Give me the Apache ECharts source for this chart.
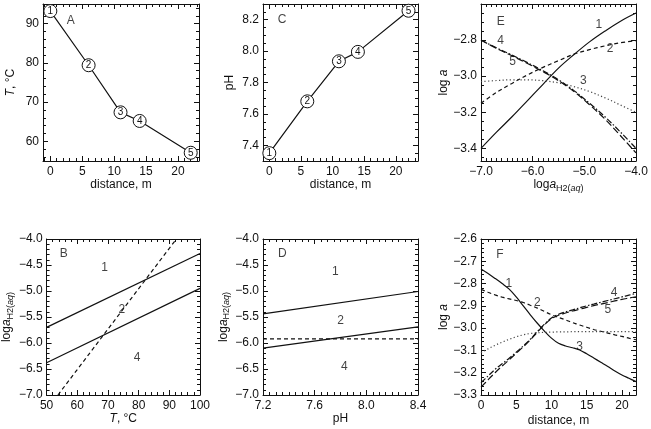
<!DOCTYPE html>
<html><head><meta charset="utf-8">
<script src="https://cdn.jsdelivr.net/npm/echarts@6/dist/echarts.min.js"></script>
<style>html,body{margin:0;padding:0;background:#fff}#c{width:651px;height:429px}</style>
</head><body><div id="c"></div>
<script>
// ---------- data ----------
const distA = [0, 6, 11, 14, 22];
const tempA = [93.2, 79.4, 67.4, 65.2, 57.1];
const distC = [0, 6, 11, 14, 22];
const phC = [7.35, 7.68, 7.935, 7.995, 8.257];
const siteLabels = ['1', '2', '3', '4', '5'];

const tempB = [50, 100];
const b12 = [-5.70, -4.28];
const b24 = [-6.38, -4.95];
const tempBDash = [53.7, 92.3];
const bDash = [-7.0, -4.0];

const phD = [7.2, 8.4];
const d12 = [-5.44, -5.01];
const d24 = [-6.10, -5.69];
const dDash = [-5.92, -5.92];

const logH2E = [-7.0, -6.7, -6.4, -6.1, -5.8, -5.5, -5.2, -4.9, -4.6, -4.3, -4.0];
const e1 = [-3.40, -3.31, -3.225, -3.135, -3.045, -2.955, -2.88, -2.81, -2.75, -2.695, -2.65];
const e2 = [-3.15, -3.09, -3.04, -2.993, -2.951, -2.914, -2.878, -2.853, -2.832, -2.815, -2.803];
const e3 = [-3.03, -3.024, -3.02, -3.02, -3.025, -3.037, -3.058, -3.085, -3.12, -3.16, -3.20];
const e4 = [-2.80, -2.843, -2.883, -2.925, -2.97, -3.02, -3.08, -3.15, -3.225, -3.31, -3.40];
const e5 = [-2.80, -2.846, -2.887, -2.93, -2.975, -3.025, -3.085, -3.158, -3.238, -3.33, -3.425];

const distF = [0, 1, 2, 3, 4, 5, 6, 7, 8, 9, 10, 11, 12, 13, 14, 15, 16, 17, 18, 19, 20, 21, 22];
const f1 = [-2.735, -2.755, -2.777, -2.80, -2.825, -2.86, -2.90, -2.94, -2.978, -3.013, -3.045, -3.068, -3.08, -3.088, -3.098, -3.115, -3.134, -3.153, -3.172, -3.192, -3.21, -3.225, -3.24];
const f2 = [-2.826, -2.839, -2.851, -2.861, -2.869, -2.876, -2.885, -2.897, -2.91, -2.925, -2.94, -2.952, -2.963, -2.975, -2.986, -2.996, -3.006, -3.014, -3.022, -3.03, -3.037, -3.045, -3.052];
const f3 = [-3.11, -3.093, -3.077, -3.063, -3.05, -3.039, -3.03, -3.024, -3.021, -3.019, -3.018, -3.017, -3.017, -3.016, -3.016, -3.016, -3.016, -3.016, -3.016, -3.016, -3.016, -3.016, -3.016];
const f4 = [-3.245, -3.215, -3.185, -3.16, -3.135, -3.108, -3.08, -3.05, -3.015, -2.982, -2.955, -2.938, -2.927, -2.918, -2.909, -2.90, -2.892, -2.884, -2.876, -2.868, -2.86, -2.852, -2.844];
const f5 = [-3.265, -3.232, -3.20, -3.17, -3.142, -3.113, -3.084, -3.053, -3.018, -2.985, -2.958, -2.942, -2.932, -2.923, -2.915, -2.907, -2.899, -2.892, -2.885, -2.878, -2.871, -2.865, -2.859];

// tick labels
const ticksDist = [0, 5, 10, 15, 20];
const ticksT = [60, 70, 80, 90];
const ticksPH = [7.4, 7.6, 7.8, 8.0, 8.2];
const ticksLogH2 = [-7.0, -6.0, -5.0, -4.0];
const ticksLogAE = [-3.4, -3.2, -3.0, -2.8];
const ticksTB = [50, 60, 70, 80, 90, 100];
const ticksLogH2Y = [-7.0, -6.5, -6.0, -5.5, -5.0, -4.5, -4.0];
const ticksPHD = [7.2, 7.6, 8.0, 8.4];
const ticksLogAF = [-3.3, -3.2, -3.1, -3.0, -2.9, -2.8, -2.7, -2.6];

// text annotations [x, y, text]
const notesA = [[3.2, 90.8, 'A']];
const notesC = [[2.0, 8.2, 'C']];
const notesE = [[-6.62, -2.70, 'E'], [-4.72, -2.717, '1'], [-4.50, -2.846, '2'], [-5.02, -3.027, '3'], [-6.62, -2.802, '4'], [-6.39, -2.92, '5']];
const notesB = [[55.6, -4.29, 'B'], [68.9, -4.56, '1'], [74.5, -5.35, '2'], [79.5, -6.28, '4']];
const notesD = [[7.35, -4.29, 'D'], [7.76, -4.63, '1'], [7.80, -5.58, '2'], [7.83, -6.46, '4']];
const notesF = [[2.7, -2.669, 'F'], [3.96, -2.80, '1'], [8.0, -2.884, '2'], [14.0, -3.083, '3'], [18.9, -2.839, '4'], [18.0, -2.918, '5']];

// ---------- styling / layout ----------
const FONT = '"Liberation Sans", Arial, Helvetica, sans-serif';
const INK = '#111';
const rich = {
  r: {fontSize: 12, fontFamily: FONT, color: INK, lineHeight: 16},
  i: {fontSize: 12, fontFamily: FONT, color: INK, lineHeight: 16, fontStyle: 'italic'},
  s: {fontSize: 9, fontFamily: FONT, color: INK, lineHeight: 9, verticalAlign: 'bottom'},
  si: {fontSize: 9, fontFamily: FONT, color: INK, lineHeight: 9, verticalAlign: 'bottom', fontStyle: 'italic'}
};
const NAME_DIST = '{r|distance, m}';
const NAME_T = '{i|T}{r|, °C}';
const NAME_PH = '{r|pH}';
const NAME_LOGA = '{r|log }{i|a}';
const NAME_H2 = '{r|log}{i|a}{s|H2(}{si|aq}{s|)}';

const panels = [
  {grid: {left: 43, top: 4, width: 156, height: 157}, x: [-1.15, 23.3, ticksDist, 1, 0], y: [55, 95, ticksT, 2, 0], xName: NAME_DIST, yName: NAME_T, xGap: 16, yGap: 24},
  {grid: {left: 263, top: 4, width: 155, height: 157}, x: [-1.0, 23.5, ticksDist, 1, 0], y: [7.3, 8.3, ticksPH, 0.05, 1], xName: NAME_DIST, yName: NAME_PH, xGap: 16, yGap: 25},
  {grid: {left: 481, top: 4, width: 155, height: 157}, x: [-7.0, -4.0, ticksLogH2, 0.1, 1], y: [-3.47, -2.6, ticksLogAE, 0.05, 1], xName: NAME_H2, yName: NAME_LOGA, xGap: 14, yGap: 29},
  {grid: {left: 43, top: 239, width: 157, height: 156}, x: [50, 100, ticksTB, 2, 0], y: [-7.0, -4.0, ticksLogH2Y, 0.1, 1], xName: NAME_T, yName: NAME_H2, xGap: 16, yGap: 25},
  {grid: {left: 263, top: 239, width: 155, height: 156}, x: [7.2, 8.4, ticksPHD, 0.05, 1], y: [-7.0, -4.0, ticksLogH2Y, 0.1, 1], xName: NAME_PH, yName: NAME_H2, xGap: 15, yGap: 29},
  {grid: {left: 481, top: 239, width: 155, height: 156}, x: [0, 22, ticksDist, 1, 0], y: [-3.3, -2.6, ticksLogAF, 0.02, 1], xName: NAME_DIST, yName: NAME_LOGA, xGap: 18, yGap: 29}
];

function minorVals(min, max, step) {
  const out = [];
  const start = Math.ceil(min / step - 1e-9);
  for (let k = start; k * step <= max + 1e-9; k++) out.push(+(k * step).toFixed(6));
  return out;
}
function fmt(dec) {
  return v => v.toFixed(dec).replace('-', '\u2212');
}

const grids = [], xAxes = [], yAxes = [];
panels.forEach((p, gi) => {
  grids.push(p.grid);
  ['x', 'y'].forEach(dim => {
    const [min, max, majors, step, dec] = p[dim];
    const minors = minorVals(min, max, step);
    const posMain = dim === 'x' ? 'bottom' : 'left';
    const posOpp = dim === 'x' ? 'top' : 'right';
    const list = dim === 'x' ? xAxes : yAxes;
    const common = {gridIndex: gi, type: 'value', min, max, splitLine: {show: false}};
    const lineOn = {show: true, onZero: false, lineStyle: {color: INK, width: 1}};
    const lineOff = {show: false, onZero: false};
    const tick = (vals, len) => ({show: true, inside: true, length: len, customValues: vals, lineStyle: {color: INK, width: 1}});
    list.push(Object.assign({}, common, {
      position: posMain, axisLine: lineOn, axisTick: tick(majors, 5),
      axisLabel: {show: true, customValues: majors, formatter: fmt(dec), margin: dim === 'x' ? 5 : 4, fontSize: 12, fontFamily: FONT, color: INK},
      name: dim === 'x' ? p.xName : p.yName, nameLocation: 'middle', nameGap: dim === 'x' ? p.xGap : p.yGap,
      nameTextStyle: {rich, fontSize: 12, fontFamily: FONT, color: INK}
    }));
    list.push(Object.assign({}, common, {position: posMain, axisLine: lineOff, axisTick: tick(minors, 3), axisLabel: {show: false}}));
    list.push(Object.assign({}, common, {position: posOpp, axisLine: lineOn, axisTick: tick(majors, 5), axisLabel: {show: false}}));
    list.push(Object.assign({}, common, {position: posOpp, axisLine: lineOff, axisTick: tick(minors, 3), axisLabel: {show: false}}));
  });
});

const series = [];
function pair(xs, ys) { return xs.map((x, i) => [x, ys[i]]); }
function curve(gi, xs, ys, type, opts) {
  series.push(Object.assign({
    type: 'line', xAxisIndex: gi * 4, yAxisIndex: gi * 4, data: pair(xs, ys),
    symbol: 'none', smooth: 0.35, silent: true, z: 3,
    lineStyle: {color: INK, width: 1.2, type: type}
  }, opts || {}));
}
function notes(gi, arr) {
  series.push({
    type: 'scatter', xAxisIndex: gi * 4, yAxisIndex: gi * 4, data: arr,
    symbolSize: 1, itemStyle: {color: 'rgba(0,0,0,0)'}, silent: true, z: 5,
    label: {show: true, position: 'inside', formatter: q => q.data[2], fontSize: 12, fontFamily: FONT, color: INK}
  });
}
function sites(gi, xs, ys) {
  series.push({
    type: 'line', xAxisIndex: gi * 4, yAxisIndex: gi * 4, data: pair(xs, ys),
    symbol: 'circle', symbolSize: 13, showAllSymbol: true, clip: false, silent: true, z: 4,
    lineStyle: {color: INK, width: 1.2},
    itemStyle: {color: '#fff', borderColor: INK, borderWidth: 1},
    label: {show: true, position: 'inside', formatter: q => siteLabels[q.dataIndex], fontSize: 10, fontFamily: FONT, color: INK}
  });
}

// A
sites(0, distA, tempA); notes(0, notesA);
// C
sites(1, distC, phC); notes(1, notesC);
// E
curve(2, logH2E, e1, 'solid');
curve(2, logH2E, e2, [4, 3]);
curve(2, logH2E, e3, [1.2, 2.4], {lineStyle: {color: '#444', width: 1.2, type: [1.2, 2.4]}});
curve(2, logH2E, e4, [6, 2, 1.5, 2]);
curve(2, logH2E, e5, [7, 3]);
notes(2, notesE);
// B
curve(3, tempB, b12, 'solid', {smooth: false});
curve(3, tempB, b24, 'solid', {smooth: false});
curve(3, tempBDash, bDash, [4, 3], {smooth: false});
notes(3, notesB);
// D
curve(4, phD, d12, 'solid', {smooth: false});
curve(4, phD, d24, 'solid', {smooth: false});
curve(4, phD, dDash, [4, 3], {smooth: false});
notes(4, notesD);
// F
curve(5, distF, f1, 'solid');
curve(5, distF, f2, [4, 3]);
curve(5, distF, f3, [1.2, 2.4], {lineStyle: {color: '#444', width: 1.2, type: [1.2, 2.4]}});
curve(5, distF, f4, [6, 2, 1.5, 2]);
curve(5, distF, f5, [7, 3]);
notes(5, notesF);

const chart = echarts.init(document.getElementById('c'), null, {renderer: 'canvas'});
chart.setOption({
  animation: false,
  backgroundColor: '#fff',
  textStyle: {fontFamily: FONT},
  grid: grids,
  xAxis: xAxes,
  yAxis: yAxes,
  series
});
</script></body></html>
